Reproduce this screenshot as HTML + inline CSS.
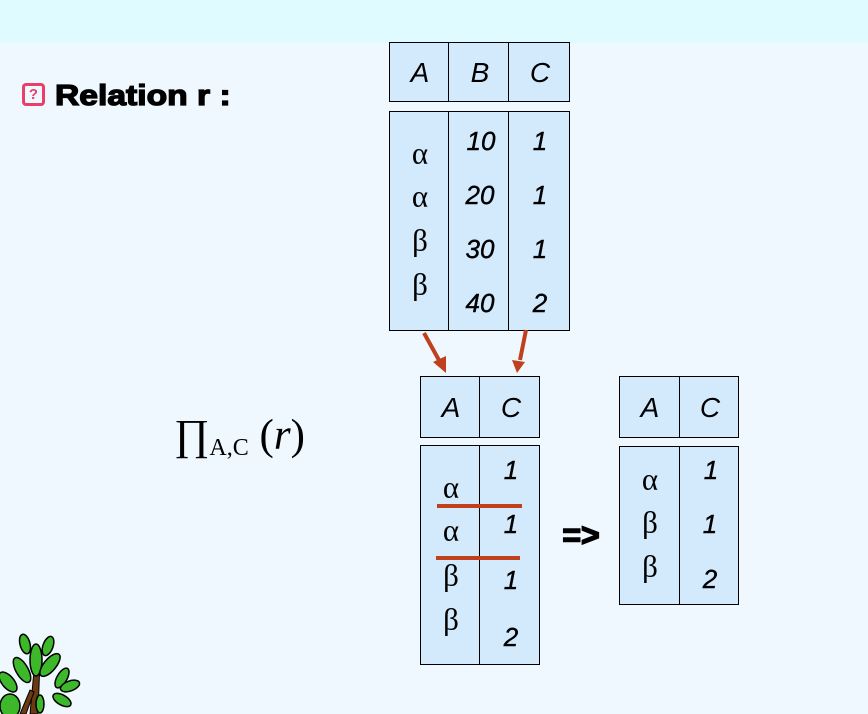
<!DOCTYPE html>
<html><head><meta charset="utf-8"><style>
body{margin:0;width:868px;height:714px;background:#f0f8ff;position:relative;overflow:hidden;font-family:"Liberation Sans",sans-serif}
.top{position:absolute;left:0;top:0;width:868px;height:43px;background:#e0fbff}
.b{position:absolute;background:#d3eafc;border:1.5px solid #000;box-sizing:border-box}
.v{position:absolute;width:0;border-left:1.5px solid #000}
.t{position:absolute;transform:translate(-50%,-50%);white-space:nowrap;line-height:1}
.h{font-style:italic;font-size:28px}
.n{font-style:italic;font-size:26px;-webkit-text-stroke:0.4px #000}
.g{font-family:"Liberation Serif",serif;font-size:31px}
.r{position:absolute;height:4px;background:#c0401e}
</style></head><body>
<div class="top"></div>
<div style="position:absolute;left:22px;top:83px;width:23px;height:23px;border:3px solid #e8406a;border-radius:4px;box-sizing:border-box;color:#e8406a;font-weight:bold;font-size:15px;text-align:center;line-height:17px">?</div>
<div style="position:absolute;left:55px;top:80px;font-weight:bold;font-size:29px;-webkit-text-stroke:1.3px #000;transform:scaleX(1.16);transform-origin:0 0;white-space:nowrap">Relation r :</div>

<!-- table 1 -->
<div class="b" style="left:389px;top:42px;width:181px;height:60px"></div>
<div class="v" style="left:448px;top:42px;height:60px"></div>
<div class="v" style="left:508px;top:42px;height:60px"></div>
<div class="t h" style="left:420px;top:73px">A</div>
<div class="t h" style="left:480px;top:73px">B</div>
<div class="t h" style="left:540px;top:73px">C</div>
<div class="b" style="left:389px;top:111px;width:181px;height:220px"></div>
<div class="v" style="left:448px;top:111px;height:220px"></div>
<div class="v" style="left:508px;top:111px;height:220px"></div>
<div class="t g" style="left:420px;top:153px">α</div>
<div class="t g" style="left:420px;top:196px">α</div>
<div class="t g" style="left:420px;top:240px">β</div>
<div class="t g" style="left:420px;top:284px">β</div>
<div class="t n" style="left:481px;top:141px">10</div>
<div class="t n" style="left:480px;top:195px">20</div>
<div class="t n" style="left:480px;top:249px">30</div>
<div class="t n" style="left:480px;top:303px">40</div>
<div class="t n" style="left:540px;top:141px">1</div>
<div class="t n" style="left:540px;top:195px">1</div>
<div class="t n" style="left:540px;top:249px">1</div>
<div class="t n" style="left:540px;top:303px">2</div>

<svg style="position:absolute;left:0;top:0" width="868" height="714">
<g stroke="#c0401e" stroke-width="4" fill="#c0401e">
<line x1="424" y1="333" x2="440" y2="362"/>
<polygon points="446,373 433,362 446,356" stroke="none"/>
<line x1="526" y1="330" x2="520" y2="360"/>
<polygon points="517,373 512,360 525,362" stroke="none"/>
</g>
<g transform="translate(0,620)">
<path d="M30 94 L35 40 L40 40 L38 94Z" fill="#6b3a12" stroke="#000"/>
<path d="M20 94 L30 70 L34 72 L26 94Z" fill="#6b3a12" stroke="#000"/>
<g fill="#3cb82a" stroke="#000" stroke-width="1.5">
<ellipse cx="36" cy="40" rx="6" ry="16"/>
<ellipse cx="25" cy="24" rx="5" ry="10" transform="rotate(-15 25 24)"/>
<ellipse cx="48" cy="26" rx="5" ry="10" transform="rotate(20 48 26)"/>
<ellipse cx="22" cy="50" rx="6" ry="14" transform="rotate(-30 22 50)"/>
<ellipse cx="50" cy="45" rx="6" ry="14" transform="rotate(40 50 45)"/>
<ellipse cx="62" cy="58" rx="5" ry="11" transform="rotate(30 62 58)"/>
<ellipse cx="70" cy="66" rx="5" ry="10" transform="rotate(70 70 66)"/>
<ellipse cx="62" cy="80" rx="5" ry="10" transform="rotate(-60 62 80)"/>
<ellipse cx="8" cy="62" rx="6" ry="12" transform="rotate(-40 8 62)"/>
<ellipse cx="10" cy="86" rx="10" ry="12"/>
<ellipse cx="40" cy="84" rx="4" ry="9"/>
</g></g>
</svg>

<!-- projection -->
<div style="position:absolute;left:174px;top:414px;font-family:'Liberation Serif',serif;font-size:43px;line-height:1;white-space:nowrap">∏<span style="font-size:24px;position:relative;top:6px">A,C</span> (<i>r</i>)</div>

<!-- table 2 -->
<div class="b" style="left:420px;top:376px;width:120px;height:62px"></div>
<div class="v" style="left:479px;top:376px;height:62px"></div>
<div class="t h" style="left:451px;top:408px">A</div>
<div class="t h" style="left:511px;top:408px">C</div>
<div class="b" style="left:420px;top:445px;width:120px;height:220px"></div>
<div class="v" style="left:479px;top:445px;height:220px"></div>
<div class="t g" style="left:451px;top:487px">α</div>
<div class="t g" style="left:451px;top:530px">α</div>
<div class="t g" style="left:451px;top:575px">β</div>
<div class="t g" style="left:451px;top:619px">β</div>
<div class="t n" style="left:511px;top:470px">1</div>
<div class="t n" style="left:511px;top:524px">1</div>
<div class="t n" style="left:511px;top:580px">1</div>
<div class="t n" style="left:511px;top:637px">2</div>
<div class="r" style="left:437px;top:504px;width:85px"></div>
<div class="r" style="left:436px;top:556px;width:84px"></div>

<div class="t" style="left:581px;top:535px;font-weight:900;font-size:32px;-webkit-text-stroke:1.5px #000">=&gt;</div>

<!-- table 3 -->
<div class="b" style="left:619px;top:376px;width:120px;height:62px"></div>
<div class="v" style="left:679px;top:376px;height:62px"></div>
<div class="t h" style="left:650px;top:408px">A</div>
<div class="t h" style="left:710px;top:408px">C</div>
<div class="b" style="left:619px;top:446px;width:120px;height:159px"></div>
<div class="v" style="left:679px;top:446px;height:159px"></div>
<div class="t g" style="left:650px;top:479px">α</div>
<div class="t g" style="left:650px;top:522px">β</div>
<div class="t g" style="left:650px;top:566px">β</div>
<div class="t n" style="left:711px;top:470px">1</div>
<div class="t n" style="left:710px;top:524px">1</div>
<div class="t n" style="left:710px;top:579px">2</div>
</body></html>
